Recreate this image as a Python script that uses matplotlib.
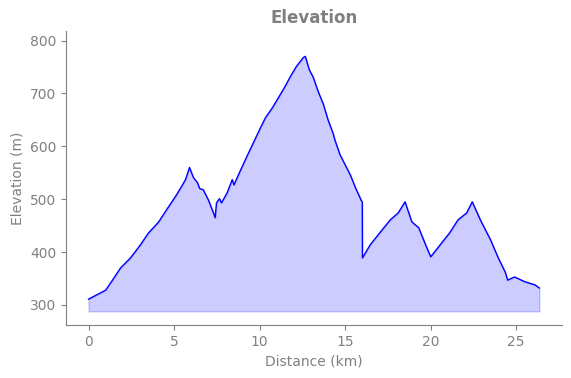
import matplotlib.pyplot as plt
import numpy as np

# elevation profile
distance_km = [0.0, 1.0, 1.4, 1.87, 2.45, 3.04, 3.5, 4.1, 4.56, 5.14, 5.67, 5.9, 6.13,
               6.37, 6.5, 6.7, 7.0, 7.3, 7.4, 7.48, 7.65, 7.77, 8.1, 8.4, 8.5, 8.76,
               9.17, 9.58, 10.05, 10.34, 10.75, 11.1, 11.45, 11.8, 12.15, 12.56, 12.67,
               12.9, 13.14, 13.43, 13.73, 14.0, 14.3, 14.4, 14.7, 15.0, 15.3, 15.6,
               15.95, 16.0, 16.01, 16.47, 17.06, 17.64, 18.1, 18.5, 18.9, 19.3, 19.7,
               20.0, 20.56, 21.1, 21.6, 22.1, 22.43, 22.9, 23.5, 23.95, 24.36, 24.5,
               24.9, 25.5, 26.1, 26.35]
elevation_m = [311, 328, 347, 370, 389, 414, 436, 457, 480, 508, 537, 560, 541,
               531, 520, 518, 499, 474, 465, 493, 501, 493, 512, 537, 527, 546,
               575, 603, 635, 654, 673, 692, 711, 732, 751, 768, 770,
               745, 730, 703, 679, 650, 624, 612, 584, 565, 546, 522,
               497, 495, 389, 414, 438, 461, 474, 495, 457, 446, 414,
               391, 414, 436, 461, 474, 495, 461, 423, 389, 362, 347,
               353, 344, 338, 332]
fill_base = 288

grey = '#808080'

fig, ax = plt.subplots(figsize=(5.71, 3.78), dpi=100)
fig.subplots_adjust(left=0.1156, right=0.984, bottom=0.140, top=0.918)

ax.fill_between(distance_km, elevation_m, fill_base, color='blue', alpha=0.2)
ax.plot(distance_km, elevation_m, color='blue', linewidth=1)

ax.set_ylim(262, 818)
ax.set_xlabel("Distance (km)", color=grey)
ax.set_ylabel("Elevation (m)", color=grey)
ax.set_title("Elevation", color=grey, fontweight='bold', fontsize=12)

for side in ['top', 'right']:
    ax.spines[side].set_visible(False)
for side in ['left', 'bottom']:
    ax.spines[side].set_color(grey)
ax.tick_params(colors=grey)

plt.savefig('out.png', dpi=100)
